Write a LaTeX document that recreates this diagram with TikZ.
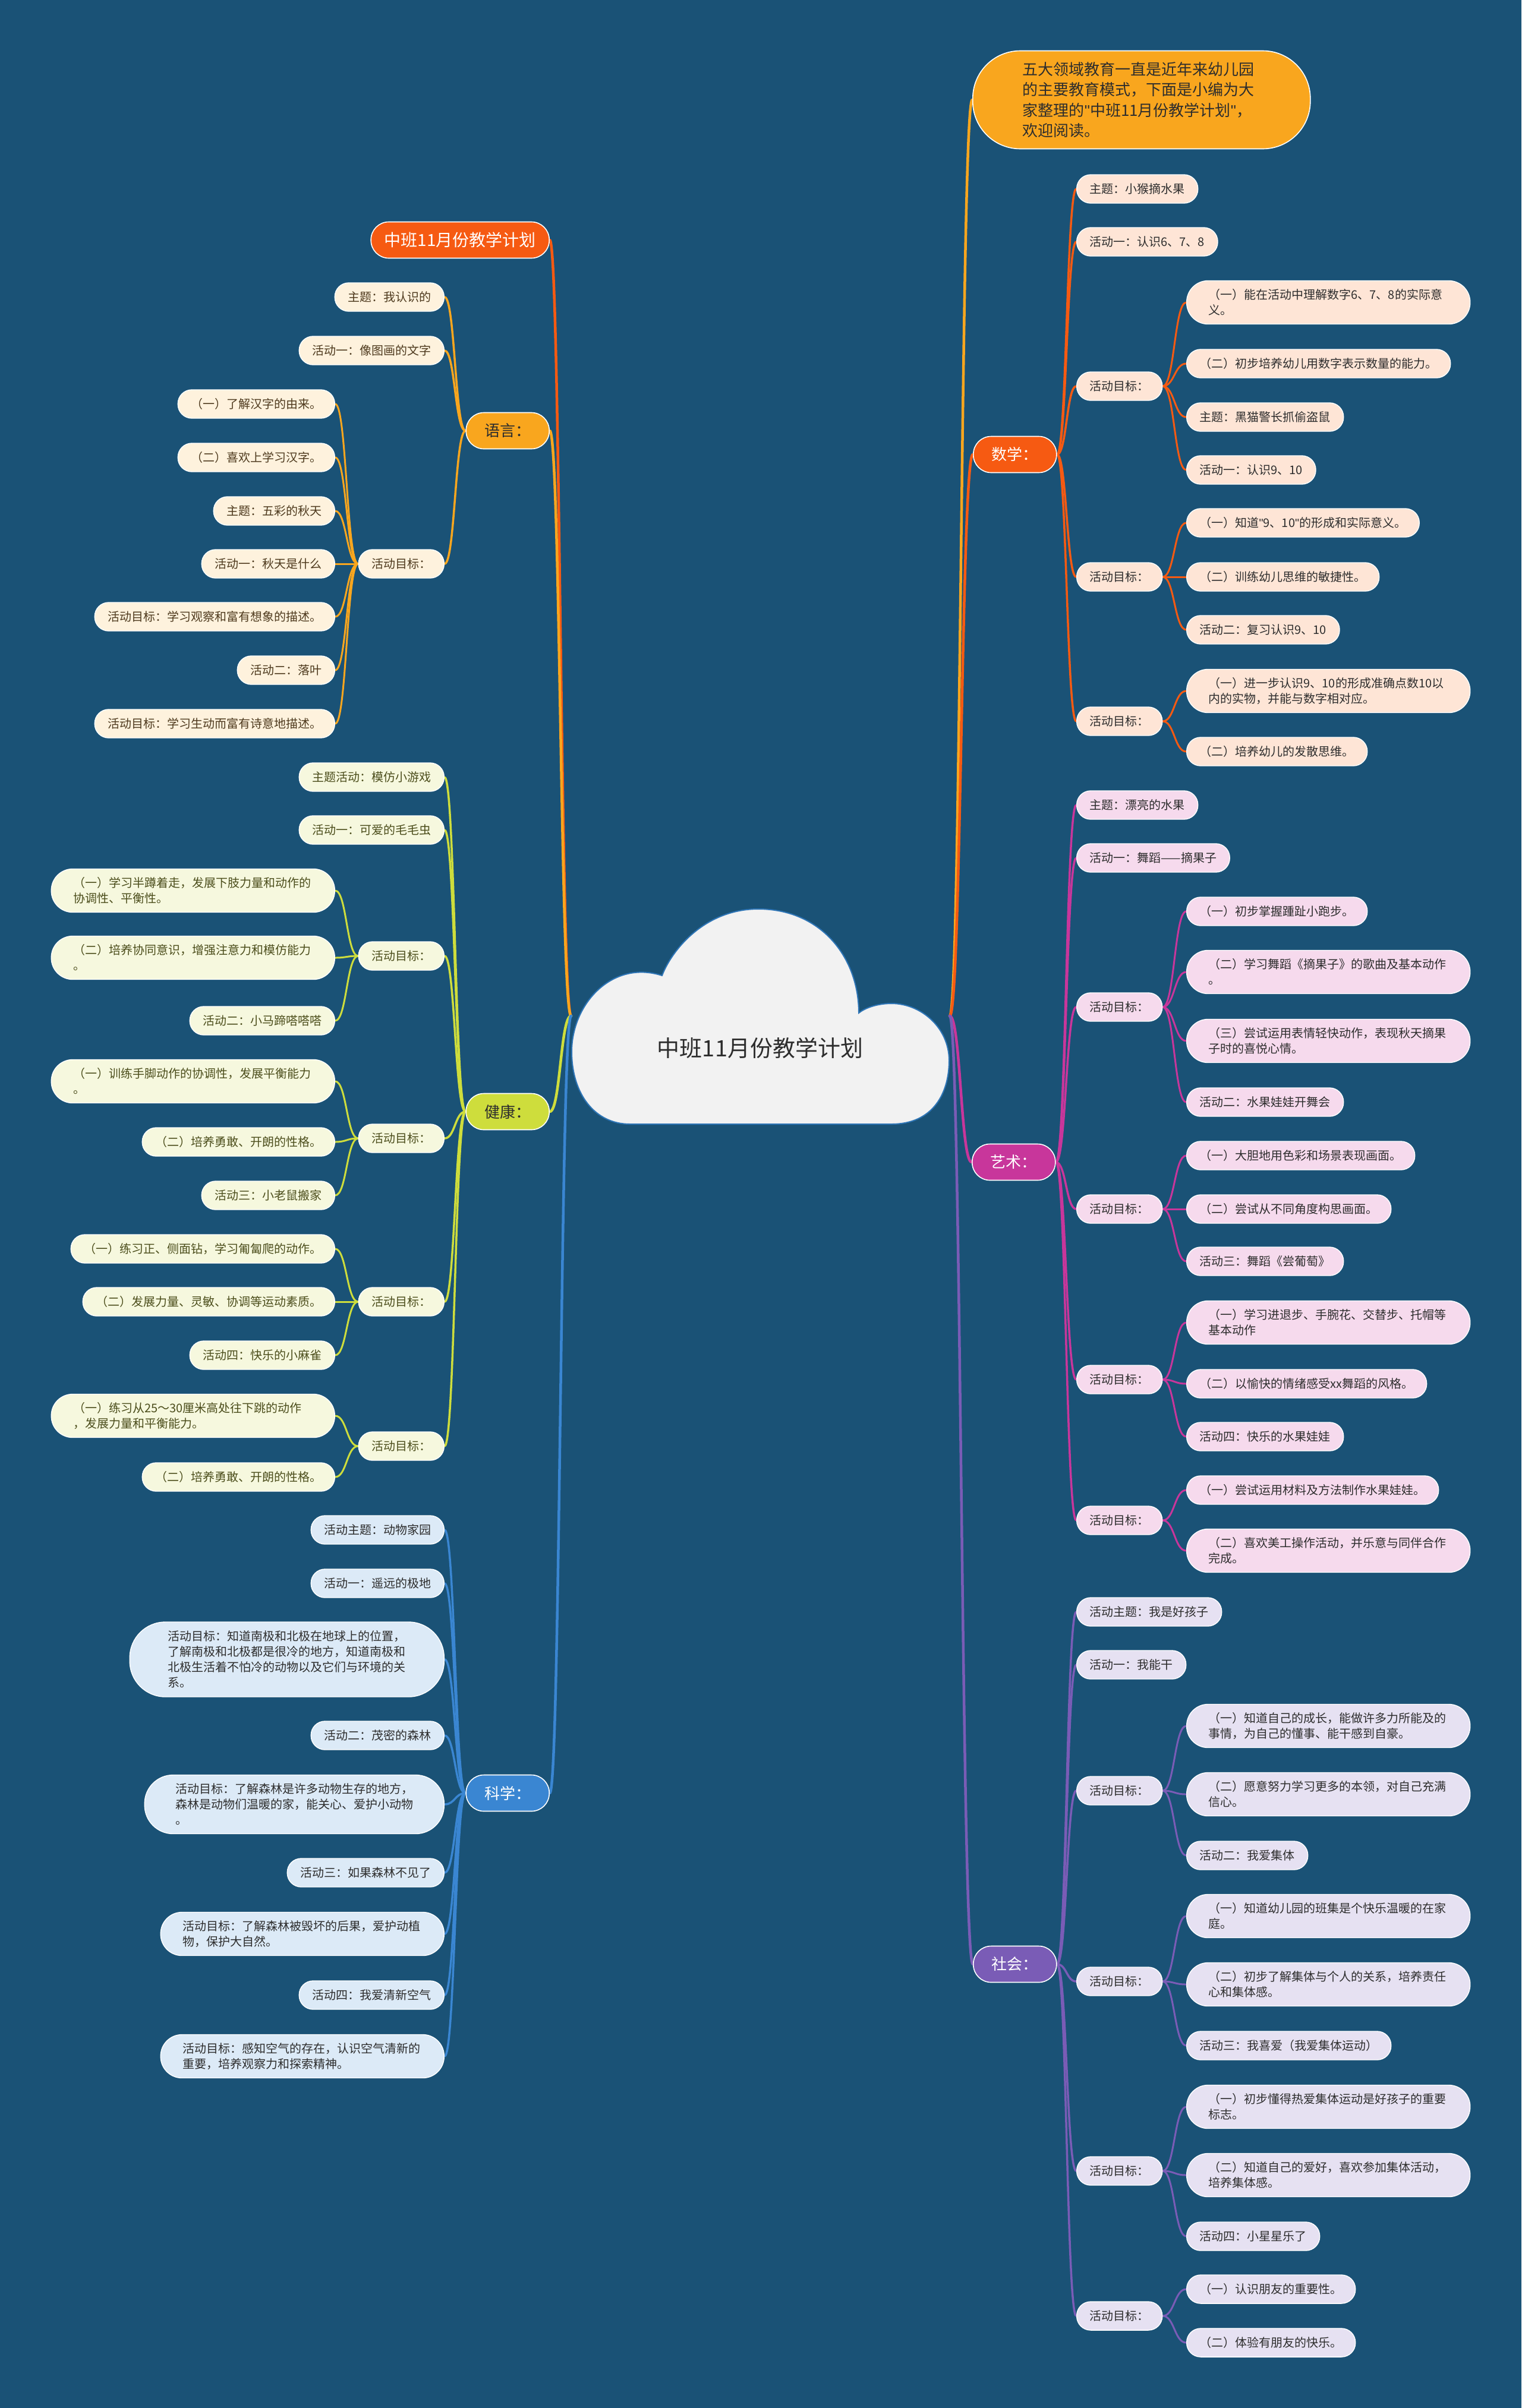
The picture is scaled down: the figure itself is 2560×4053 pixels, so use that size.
\documentclass[tikz,border=0pt]{standalone}
\usepackage{fontspec}
\setmainfont{Noto Sans CJK SC}
\newfontfamily\latinf{Liberation Sans}
\newcommand\sq{{\latinf\char"22}}
\usetikzlibrary{calc}
\pgfdeclarelayer{bg}
\pgfsetlayers{bg,main}
\definecolor{bgc}{RGB}{26,82,118}
\definecolor{cOrg}{RGB}{246,90,18}
\definecolor{cYel}{RGB}{249,166,30}
\definecolor{cGrn}{RGB}{206,221,60}
\definecolor{cBlu}{RGB}{58,134,210}
\definecolor{cMag}{RGB}{200,54,155}
\definecolor{cPur}{RGB}{122,92,182}
\definecolor{fLang}{RGB}{254,242,221}
\definecolor{fHlth}{RGB}{246,248,222}
\definecolor{fSci}{RGB}{220,234,247}
\definecolor{fMath}{RGB}{254,229,214}
\definecolor{fArt}{RGB}{246,218,237}
\definecolor{fSoc}{RGB}{230,225,242}
\definecolor{tDark}{RGB}{45,45,45}
\definecolor{tLang}{RGB}{78,58,30}
\definecolor{tHlth}{RGB}{76,78,28}
\definecolor{cloudF}{RGB}{242,242,242}
\definecolor{cloudL}{RGB}{46,117,182}
\newcommand\cnx[3]{\draw[#1] let \p1=(#2), \p2=(#3) in (\p1) .. controls ({(\x1+\x2)/2},\y1) and ({(\x1+\x2)/2},\y2) .. (\p2);}
\begin{document}
\begin{tikzpicture}[x=1pt,y=-1pt,
  lv1/.style={draw=white, line width=1.6pt, rounded corners=30pt, minimum width=140pt, minimum height=61pt, inner xsep=20pt, inner ysep=0pt, font=\fontsize{26}{32}\selectfont},
  leaf/.style={draw=white, line width=1.4pt, rounded corners=23.5pt, minimum height=48pt, inner xsep=22pt, inner ysep=0pt, font=\fontsize{20}{26}\selectfont},
  ml/.style={leaf, text width=403pt, align=left, inner xsep=37pt, rounded corners=36pt, minimum height=73pt},
  bLang/.style={fill=fLang, text=tLang},
  bHlth/.style={fill=fHlth, text=tHlth},
  bSci/.style={fill=fSci, text=tDark},
  bMath/.style={fill=fMath, text=tDark},
  bArt/.style={fill=fArt, text=tDark},
  bSoc/.style={fill=fSoc, text=tDark},
  E/.style={anchor=east}, W/.style={anchor=west},
  c1/.style={line width=4.5pt, line cap=round},
  l2/.style={line width=3.5pt, line cap=round},
  l3/.style={line width=3pt, line cap=round}]
\begin{pgfonlayer}{bg}
\fill[bgc] (0,0) rectangle (2560,4053);
\end{pgfonlayer}
\useasboundingbox (0,0) rectangle (2560,4053);

% central cloud
\draw[fill=cloudF, draw=cloudL, line width=2pt]
 (1060,1892) -- (1500,1892)
 .. controls (1570,1892) and (1597,1840) .. (1597,1785)
 .. controls (1597,1730) and (1550,1689) .. (1500,1689)
 .. controls (1475,1689) and (1455,1697) .. (1445,1705)
 .. controls (1445,1610) and (1380,1530) .. (1276,1530)
 .. controls (1185,1530) and (1130,1600) .. (1114,1642)
 .. controls (1030,1615) and (962,1690) .. (962,1770)
 .. controls (962,1840) and (1000,1892) .. (1060,1892) -- cycle;
\node[text=tDark, font=\fontsize{38}{44}\selectfont] (root) at (1279,1764) {中班11月份教学计划};
\coordinate (cl) at (961,1710);
\coordinate (cr) at (1598,1710);

% level 1 left
\node[lv1, E, fill=cOrg, text=white, minimum width=300pt, font=\fontsize{28}{34}\selectfont] (top) at (925,404) {中班11月份教学计划};
\node[lv1, E, fill=cYel, text=tDark] (yy) at (925,725) {语言：};
\node[lv1, E, fill=cGrn, text=tDark] (jk) at (925,1871) {健康：};
\node[lv1, E, fill=cBlu, text=white] (kx) at (925,3018) {科学：};
% level 1 right
\node[draw=white, line width=1.6pt, W, fill=cYel, text=tDark, rounded corners=80pt, minimum height=165pt, text width=400pt, align=left, inner xsep=84pt, inner ysep=0pt, font=\fontsize{26}{34.6}\selectfont] (intro) at (1636,168) {五大领域教育一直是近年来幼儿园\\的主要教育模式，下面是小编为大\\家整理的\sq 中班11月份教学计划\sq ，\\欢迎阅读。};
\node[lv1, W, fill=cOrg, text=white] (sx) at (1637,765) {数学：};
\node[lv1, W, fill=cMag, text=white] (ys) at (1635,1956) {艺术：};
\node[lv1, W, fill=cPur, text=white] (sh) at (1637,3306) {社会：};

% language
\node[leaf,bLang,E] (yy1) at (748,500) {主题：我认识的};
\node[leaf,bLang,E] (yy2) at (748,590) {活动一：像图画的文字};
\node[leaf,bLang,E] (yy3) at (748,949) {活动目标：};
\node[leaf,bLang,E] (yy3a) at (564,680) {（一）了解汉字的由来。};
\node[leaf,bLang,E] (yy3b) at (564,770) {（二）喜欢上学习汉字。};
\node[leaf,bLang,E] (yy3c) at (564,860) {主题：五彩的秋天};
\node[leaf,bLang,E] (yy3d) at (564,949) {活动一：秋天是什么};
\node[leaf,bLang,E] (yy3e) at (564,1038) {活动目标：学习观察和富有想象的描述。};
\node[leaf,bLang,E] (yy3f) at (564,1128) {活动二：落叶};
\node[leaf,bLang,E] (yy3g) at (564,1218) {活动目标：学习生动而富有诗意地描述。};

% health
\node[leaf,bHlth,E] (jk1) at (748,1308) {主题活动：模仿小游戏};
\node[leaf,bHlth,E] (jk2) at (748,1397) {活动一：可爱的毛毛虫};
\node[leaf,bHlth,E] (jk3) at (748,1609) {活动目标：};
\node[ml,bHlth,E] (jk3a) at (564,1499) {（一）学习半蹲着走，发展下肢力量和动作的\\协调性、平衡性。};
\node[ml,bHlth,E] (jk3b) at (564,1612) {（二）培养协同意识，增强注意力和模仿能力\\。};
\node[leaf,bHlth,E] (jk3c) at (564,1718) {活动二：小马蹄嗒嗒嗒};
\node[leaf,bHlth,E] (jk4) at (748,1916) {活动目标：};
\node[ml,bHlth,E] (jk4a) at (564,1820) {（一）训练手脚动作的协调性，发展平衡能力\\。};
\node[leaf,bHlth,E] (jk4b) at (564,1922) {（二）培养勇敢、开朗的性格。};
\node[leaf,bHlth,E] (jk4c) at (564,2012) {活动三：小老鼠搬家};
\node[leaf,bHlth,E] (jk5) at (748,2191) {活动目标：};
\node[leaf,bHlth,E] (jk5a) at (564,2102) {（一）练习正、侧面钻，学习匍匐爬的动作。};
\node[leaf,bHlth,E] (jk5b) at (564,2191) {（二）发展力量、灵敏、协调等运动素质。};
\node[leaf,bHlth,E] (jk5c) at (564,2281) {活动四：快乐的小麻雀};
\node[leaf,bHlth,E] (jk6) at (748,2434) {活动目标：};
\node[ml,bHlth,E] (jk6a) at (564,2383) {（一）练习从25～30厘米高处往下跳的动作\\，发展力量和平衡能力。};
\node[leaf,bHlth,E] (jk6b) at (564,2486) {（二）培养勇敢、开朗的性格。};

% science
\node[leaf,bSci,E] (kx1) at (748,2575) {活动主题：动物家园};
\node[leaf,bSci,E] (kx2) at (748,2665) {活动一：遥远的极地};
\node[ml,bSci,E, text width=400pt, inner xsep=64.5pt, minimum height=126pt, rounded corners=60pt] (kx3) at (748,2793) {活动目标：知道南极和北极在地球上的位置，\\了解南极和北极都是很冷的地方，知道南极和\\北极生活着不怕冷的动物以及它们与环境的关\\系。};
\node[leaf,bSci,E] (kx4) at (748,2921) {活动二：茂密的森林};
\node[ml,bSci,E, text width=400pt, inner xsep=52pt, minimum height=99pt, rounded corners=48pt] (kx5) at (748,3037) {活动目标：了解森林是许多动物生存的地方，\\森林是动物们温暖的家，能关心、爱护小动物\\。};
\node[leaf,bSci,E] (kx6) at (748,3152) {活动三：如果森林不见了};
\node[ml,bSci,E] (kx7) at (748,3255) {活动目标：了解森林被毁坏的后果，爱护动植\\物，保护大自然。};
\node[leaf,bSci,E] (kx8) at (748,3358) {活动四：我爱清新空气};
\node[ml,bSci,E] (kx9) at (748,3461) {活动目标：感知空气的存在，认识空气清新的\\重要，培养观察力和探索精神。};

% math
\node[leaf,bMath,W] (sx1) at (1811,318) {主题：小猴摘水果};
\node[leaf,bMath,W] (sx2) at (1811,407) {活动一：认识6、7、8};
\node[leaf,bMath,W] (sx3) at (1811,650) {活动目标：};
\node[ml,bMath,W] (sx3a) at (1996,509) {（一）能在活动中理解数字6、7、8的实际意\\义。};
\node[leaf,bMath,W] (sx3b) at (1996,612) {（二）初步培养幼儿用数字表示数量的能力。};
\node[leaf,bMath,W] (sx3c) at (1996,702) {主题：黑猫警长抓偷盗鼠};
\node[leaf,bMath,W] (sx3d) at (1996,791) {活动一：认识9、10};
\node[leaf,bMath,W] (sx4) at (1811,971) {活动目标：};
\node[leaf,bMath,W] (sx4a) at (1996,880) {（一）知道\sq 9、10\sq 的形成和实际意义。};
\node[leaf,bMath,W] (sx4b) at (1996,971) {（二）训练幼儿思维的敏捷性。};
\node[leaf,bMath,W] (sx4c) at (1996,1060) {活动二：复习认识9、10};
\node[leaf,bMath,W] (sx5) at (1811,1214) {活动目标：};
\node[ml,bMath,W] (sx5a) at (1996,1163) {（一）进一步认识9、10的形成准确点数10以\\内的实物，并能与数字相对应。};
\node[leaf,bMath,W] (sx5b) at (1996,1265) {（二）培养幼儿的发散思维。};

% art
\node[leaf,bArt,W] (ys1) at (1811,1355) {主题：漂亮的水果};
\node[leaf,bArt,W] (ys2) at (1811,1444) {活动一：舞蹈——摘果子};
\node[leaf,bArt,W] (ys3) at (1811,1695) {活动目标：};
\node[leaf,bArt,W] (ys3a) at (1996,1534) {（一）初步掌握踵趾小跑步。};
\node[ml,bArt,W] (ys3b) at (1996,1636) {（二）学习舞蹈《摘果子》的歌曲及基本动作\\。};
\node[ml,bArt,W] (ys3c) at (1996,1752) {（三）尝试运用表情轻快动作，表现秋天摘果\\子时的喜悦心情。};
\node[leaf,bArt,W] (ys3d) at (1996,1855) {活动二：水果娃娃开舞会};
\node[leaf,bArt,W] (ys4) at (1811,2035) {活动目标：};
\node[leaf,bArt,W] (ys4a) at (1996,1945) {（一）大胆地用色彩和场景表现画面。};
\node[leaf,bArt,W] (ys4b) at (1996,2035) {（二）尝试从不同角度构思画面。};
\node[leaf,bArt,W] (ys4c) at (1996,2123) {活动三：舞蹈《尝葡萄》};
\node[leaf,bArt,W] (ys5) at (1811,2322) {活动目标：};
\node[ml,bArt,W] (ys5a) at (1996,2226) {（一）学习进退步、手腕花、交替步、托帽等\\基本动作};
\node[leaf,bArt,W] (ys5b) at (1996,2329) {（二）以愉快的情绪感受xx舞蹈的风格。};
\node[leaf,bArt,W] (ys5c) at (1996,2418) {活动四：快乐的水果娃娃};
\node[leaf,bArt,W] (ys6) at (1811,2559) {活动目标：};
\node[leaf,bArt,W] (ys6a) at (1996,2508) {（一）尝试运用材料及方法制作水果娃娃。};
\node[ml,bArt,W] (ys6b) at (1996,2610) {（二）喜欢美工操作活动，并乐意与同伴合作\\完成。};

% society
\node[leaf,bSoc,W] (sh1) at (1811,2713) {活动主题：我是好孩子};
\node[leaf,bSoc,W] (sh2) at (1811,2802) {活动一：我能干};
\node[leaf,bSoc,W] (sh3) at (1811,3014) {活动目标：};
\node[ml,bSoc,W] (sh3a) at (1996,2905) {（一）知道自己的成长，能做许多力所能及的\\事情，为自己的懂事、能干感到自豪。};
\node[ml,bSoc,W] (sh3b) at (1996,3020) {（二）愿意努力学习更多的本领，对自己充满\\信心。};
\node[leaf,bSoc,W] (sh3c) at (1996,3123) {活动二：我爱集体};
\node[leaf,bSoc,W] (sh4) at (1811,3335) {活动目标：};
\node[ml,bSoc,W] (sh4a) at (1996,3225) {（一）知道幼儿园的班集是个快乐温暖的在家\\庭。};
\node[ml,bSoc,W] (sh4b) at (1996,3340) {（二）初步了解集体与个人的关系，培养责任\\心和集体感。};
\node[leaf,bSoc,W] (sh4c) at (1996,3443) {活动三：我喜爱（我爱集体运动）};
\node[leaf,bSoc,W] (sh5) at (1811,3654) {活动目标：};
\node[ml,bSoc,W] (sh5a) at (1996,3546) {（一）初步懂得热爱集体运动是好孩子的重要\\标志。};
\node[ml,bSoc,W] (sh5b) at (1996,3661) {（二）知道自己的爱好，喜欢参加集体活动，\\培养集体感。};
\node[leaf,bSoc,W] (sh5c) at (1996,3764) {活动四：小星星乐了};
\node[leaf,bSoc,W] (sh6) at (1811,3898) {活动目标：};
\node[leaf,bSoc,W] (sh6a) at (1996,3853) {（一）认识朋友的重要性。};
\node[leaf,bSoc,W] (sh6b) at (1996,3943) {（二）体验有朋友的快乐。};

\begin{pgfonlayer}{bg}
% level 1
\cnx{cOrg,c1}{cl}{top.east}
\cnx{cYel,c1}{cl}{yy.east}
\cnx{cGrn,c1}{cl}{jk.east}
\cnx{cBlu,c1}{cl}{kx.east}
\cnx{cYel,c1}{cr}{intro.west}
\cnx{cOrg,c1}{cr}{sx.west}
\cnx{cMag,c1}{cr}{ys.west}
\cnx{cPur,c1}{cr}{sh.west}
% language
\foreach \c in {yy1,yy2,yy3} {\cnx{cYel,l2}{yy.west}{\c.east}}
\foreach \c in {yy3a,yy3b,yy3c,yy3d,yy3e,yy3f,yy3g} {\cnx{cYel,l3}{yy3.west}{\c.east}}
% health
\foreach \c in {jk1,jk2,jk3,jk4,jk5,jk6} {\cnx{cGrn,l2}{jk.west}{\c.east}}
\foreach \c in {jk3a,jk3b,jk3c} {\cnx{cGrn,l3}{jk3.west}{\c.east}}
\foreach \c in {jk4a,jk4b,jk4c} {\cnx{cGrn,l3}{jk4.west}{\c.east}}
\foreach \c in {jk5a,jk5b,jk5c} {\cnx{cGrn,l3}{jk5.west}{\c.east}}
\foreach \c in {jk6a,jk6b} {\cnx{cGrn,l3}{jk6.west}{\c.east}}
% science
\foreach \c in {kx1,kx2,kx3,kx4,kx5,kx6,kx7,kx8,kx9} {\cnx{cBlu,l2}{kx.west}{\c.east}}
% math
\foreach \c in {sx1,sx2,sx3,sx4,sx5} {\cnx{cOrg,l2}{sx.east}{\c.west}}
\foreach \c in {sx3a,sx3b,sx3c,sx3d} {\cnx{cOrg,l3}{sx3.east}{\c.west}}
\foreach \c in {sx4a,sx4b,sx4c} {\cnx{cOrg,l3}{sx4.east}{\c.west}}
\foreach \c in {sx5a,sx5b} {\cnx{cOrg,l3}{sx5.east}{\c.west}}
% art
\foreach \c in {ys1,ys2,ys3,ys4,ys5,ys6} {\cnx{cMag,l2}{ys.east}{\c.west}}
\foreach \c in {ys3a,ys3b,ys3c,ys3d} {\cnx{cMag,l3}{ys3.east}{\c.west}}
\foreach \c in {ys4a,ys4b,ys4c} {\cnx{cMag,l3}{ys4.east}{\c.west}}
\foreach \c in {ys5a,ys5b,ys5c} {\cnx{cMag,l3}{ys5.east}{\c.west}}
\foreach \c in {ys6a,ys6b} {\cnx{cMag,l3}{ys6.east}{\c.west}}
% society
\foreach \c in {sh1,sh2,sh3,sh4,sh5,sh6} {\cnx{cPur,l2}{sh.east}{\c.west}}
\foreach \c in {sh3a,sh3b,sh3c} {\cnx{cPur,l3}{sh3.east}{\c.west}}
\foreach \c in {sh4a,sh4b,sh4c} {\cnx{cPur,l3}{sh4.east}{\c.west}}
\foreach \c in {sh5a,sh5b,sh5c} {\cnx{cPur,l3}{sh5.east}{\c.west}}
\foreach \c in {sh6a,sh6b} {\cnx{cPur,l3}{sh6.east}{\c.west}}
\end{pgfonlayer}
\end{tikzpicture}
\end{document}
